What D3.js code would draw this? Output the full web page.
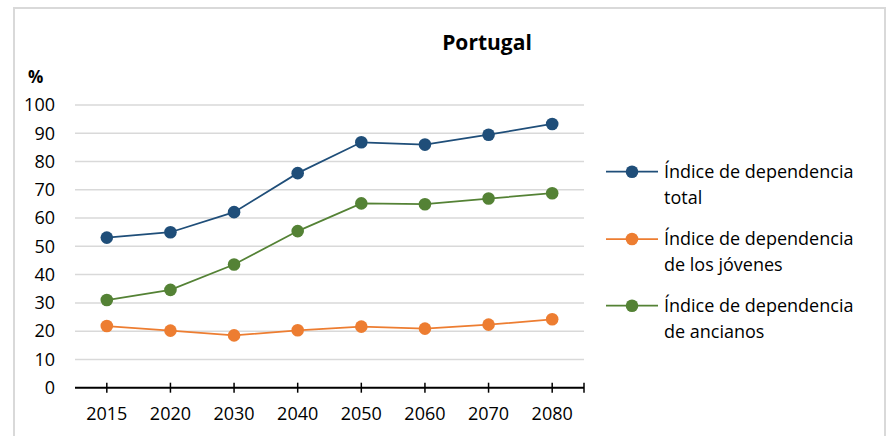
<!DOCTYPE html>
<html>
<head>
<meta charset="utf-8">
<script src="https://cdn.jsdelivr.net/npm/d3@7"></script>
<style>
  html, body { margin: 0; padding: 0; background: #fff; }
  svg { display: block; font-family: "Open Sans", sans-serif; }
</style>
</head>
<body>
<svg id="chart" width="888" height="436"></svg>
<script>
const categories = ["2015", "2020", "2030", "2040", "2050", "2060", "2070", "2080"];
const totalValues = [53.1, 55.0, 62.1, 75.9, 86.8, 86.0, 89.5, 93.3];
const youngValues = [21.8, 20.2, 18.5, 20.3, 21.6, 20.9, 22.3, 24.2];
const elderlyValues = [31.0, 34.6, 43.6, 55.4, 65.2, 64.9, 66.9, 68.8];
const seriesNames = ["Índice de dependencia total", "Índice de dependencia de los jóvenes", "Índice de dependencia de ancianos"];
const legendLines = [["Índice de dependencia", "total"], ["Índice de dependencia", "de los jóvenes"], ["Índice de dependencia", "de ancianos"]];
const seriesColors = ["#1f4e79", "#ed7d31", "#548235"];
const yTicks = [0, 10, 20, 30, 40, 50, 60, 70, 80, 90, 100];
const titleText = "Portugal";
const unitText = "%";

const series = [totalValues, youngValues, elderlyValues].map((vals, i) => ({
  name: seriesNames[i], color: seriesColors[i], legend: legendLines[i],
  values: vals.map((v, j) => ({ cat: categories[j], v }))
}));

const svg = d3.select("#chart");

// chart border
svg.append("rect").attr("x", 14).attr("y", 8).attr("width", 871).attr("height", 440)
  .attr("fill", "#fff").attr("stroke", "#d9d9d9").attr("stroke-width", 2);

const x = d3.scaleBand().domain(categories).range([75, 584]);
const y = d3.scaleLinear().domain([0, 100]).range([387.7, 105]);

// gridlines
svg.append("g").selectAll("line").data(yTicks.filter(t => t > 0)).join("line")
  .attr("x1", 75).attr("x2", 584)
  .attr("y1", d => y(d)).attr("y2", d => y(d))
  .attr("stroke", "#d9d9d9").attr("stroke-width", 1.5);

// y axis labels
const yAxis = d3.axisLeft(y).tickValues(yTicks).tickSize(0).tickPadding(0);
const gy = svg.append("g").attr("transform", "translate(55,0)").call(yAxis);
gy.select(".domain").remove();
gy.selectAll("text").attr("font-size", 18).attr("font-family", "Open Sans, sans-serif").attr("fill", "#000");

// x axis
const gx = svg.append("g").attr("transform", `translate(0,${y(0)})`);
gx.append("line").attr("x1", 75).attr("x2", 584).attr("stroke", "#000").attr("stroke-width", 2);
const tickXs = categories.map(c => x(c) + x.bandwidth() / 2).concat([x.range()[1]]);
gx.selectAll("line.tick").data(tickXs).join("line").attr("class", "tick")
  .attr("x1", d => d).attr("x2", d => d).attr("y1", -5).attr("y2", 5)
  .attr("stroke", "#000").attr("stroke-width", 1.5);
gx.selectAll("text").data(categories).join("text")
  .attr("x", d => x(d) + x.bandwidth() / 2).attr("y", 32)
  .attr("text-anchor", "middle").attr("font-size", 18).attr("fill", "#000").text(d => d);

// lines and markers
const line = d3.line().x(d => x(d.cat) + x.bandwidth() / 2).y(d => y(d.v));
const order = [series[1], series[2], series[0]];
order.forEach(s => {
  svg.append("path").datum(s.values).attr("d", line)
    .attr("fill", "none").attr("stroke", s.color).attr("stroke-width", 1.75);
  svg.append("g").selectAll("circle").data(s.values).join("circle")
    .attr("cx", d => x(d.cat) + x.bandwidth() / 2).attr("cy", d => y(d.v))
    .attr("r", 6.3).attr("fill", s.color);
});

// title and unit
svg.append("text").attr("x", 487).attr("y", 50).attr("text-anchor", "middle")
  .attr("font-size", 21).attr("font-weight", "bold").attr("fill", "#000").text(titleText);
svg.append("text").attr("x", 28).attr("y", 83)
  .attr("font-size", 17).attr("font-weight", "bold").attr("fill", "#000").text(unitText);

// legend
const legendYs = [171.7, 239, 305.7];
series.forEach((s, i) => {
  const g = svg.append("g").attr("transform", `translate(0,${legendYs[i]})`);
  g.append("line").attr("x1", 606).attr("x2", 658).attr("stroke", s.color).attr("stroke-width", 1.75);
  g.append("circle").attr("cx", 632).attr("r", 6.3).attr("fill", s.color);
  const t = g.append("text").attr("x", 664).attr("y", 6).attr("font-size", 18).attr("fill", "#000");
  s.legend.forEach((ln, k) => {
    t.append("tspan").attr("x", 664).attr("dy", k === 0 ? 0 : 26).text(ln);
  });
});
</script>
</body>
</html>
